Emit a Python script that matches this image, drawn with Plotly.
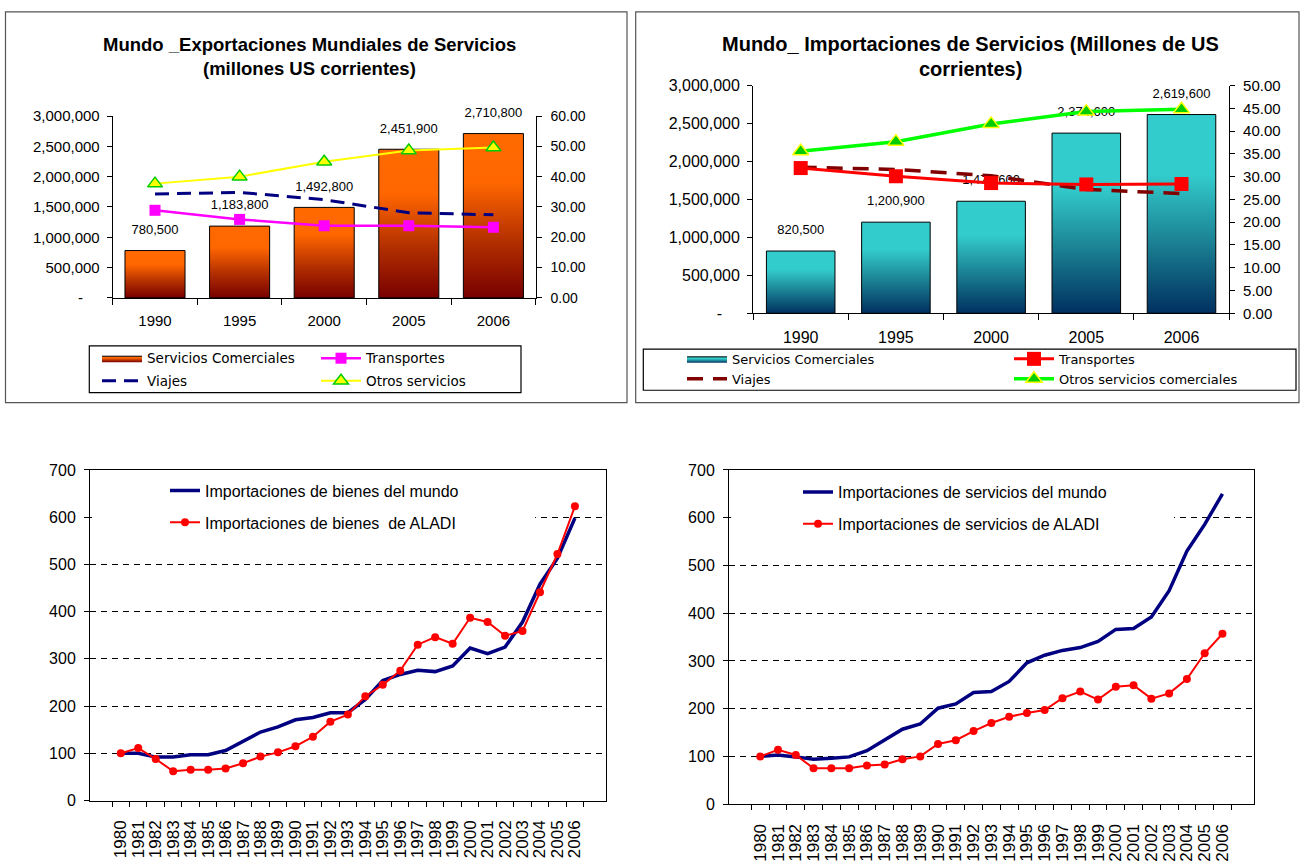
import plotly.graph_objects as go

# ----------------------------
# Dades (llegides del grafic original)
# ----------------------------
anys_serveis = ["1990", "1995", "2000", "2005", "2006"]

# Exportacions mundials de serveis
exp_comerciales = [780500, 1183800, 1492800, 2451900, 2710800]
exp_transportes = [28.9, 25.9, 23.8, 23.8, 23.3]
exp_viajes = [34.3, 34.8, 32.4, 28.1, 27.4]
exp_otros = [37.7, 40.0, 44.9, 48.6, 49.6]

# Importacions mundials de serveis
imp_comerciales = [820500, 1200900, 1476600, 2374600, 2619600]
imp_transportes = [31.9, 30.1, 28.6, 28.3, 28.4]
imp_viajes = [32.1, 31.6, 30.2, 27.2, 26.3]
imp_otros = [35.6, 37.7, 41.6, 44.3, 44.8]

# Index 1980 = 100
anys_index = ["1980", "1981", "1982", "1983", "1984", "1985", "1986", "1987", "1988",
              "1989", "1990", "1991", "1992", "1993", "1994", "1995", "1996", "1997",
              "1998", "1999", "2000", "2001", "2002", "2003", "2004", "2005", "2006"]
mundo_bienes = [100, 100, 92, 92, 97, 97, 106, 126, 145, 156, 171, 176, 186, 186, 214,
                254, 267, 276, 273, 285, 323, 311, 325, 378, 458, 513, 598]
aladi_bienes = [100, 111, 88, 62, 65, 65, 68, 79, 93, 102, 115, 135, 167, 182, 221,
                245, 275, 330, 346, 332, 387, 378, 349, 359, 441, 522, 623]
mundo_servicios = [100, 103, 99, 94, 96, 99, 112, 134, 157, 168, 201, 210, 234, 236, 257,
                   296, 312, 322, 328, 341, 366, 368, 392, 447, 530, 586, 650]
aladi_servicios = [100, 114, 103, 75, 75, 75, 81, 83, 94, 100, 126, 134, 153, 170, 183,
                   191, 197, 222, 236, 219, 246, 249, 221, 232, 262, 316, 357]

ticks_milions = [0, 500000, 1000000, 1500000, 2000000, 2500000, 3000000]
text_milions = ["-\u00a0\u00a0\u00a0\u00a0" if v == 0 else f"{v:,}" for v in ticks_milions]

# ----------------------------
# Utilitats de posicio (pixels de la pagina -> paper)
# ----------------------------
AMPLADA, ALCADA = 1301, 868
ARIAL = "Liberation Sans, Arial, sans-serif"
VERDANA = "DejaVu Sans, Verdana, sans-serif"


def px(x):
    return x / AMPLADA


def py(y):
    return 1 - y / ALCADA


fig = go.Figure()


def barres(valors, xa, ya, escala, mig_ample, nom, llegenda):
    # barres amb degradat: poligons omplerts sobre l'eix numeric
    for i, v in enumerate(valors):
        fig.add_trace(go.Scatter(
            x=[i - mig_ample, i + mig_ample, i + mig_ample, i - mig_ample, i - mig_ample],
            y=[0, 0, v, v, 0],
            mode="lines", fill="toself",
            fillgradient=dict(type="vertical", colorscale=escala),
            line=dict(color="black", width=1),
            xaxis=xa, yaxis=ya, name=nom, legend=llegenda, legendgroup="g1",
            showlegend=(i == 0), hoverinfo="skip",
        ))
    fig.add_trace(go.Scatter(
        x=list(range(len(valors))), y=valors, mode="markers+text",
        text=[f"{v:,}" for v in valors], textposition="top center",
        textfont=dict(family=ARIAL, size=13, color="black"),
        marker=dict(size=20, color="rgba(0,0,0,0)"), cliponaxis=False,
        xaxis=xa, yaxis=ya, showlegend=False, hoverinfo="skip",
    ))


def linia(x, y, xa, ya, nom, llegenda, grup, color, ample, dash="solid", marcador=None):
    fig.add_trace(go.Scatter(
        x=x, y=y, name=nom, xaxis=xa, yaxis=ya, legend=llegenda, legendgroup=grup,
        mode="lines+markers" if marcador else "lines",
        line=dict(color=color, width=ample, dash=dash),
        marker=marcador, cliponaxis=False,
    ))


idx = list(range(len(anys_serveis)))

# ----------------------------
# 1) Exportacions
# ----------------------------
taronja = [[0, "#780000"], [0.35, "#B43000"], [0.7, "#FF6600"], [1, "#FF6A00"]]
barres(exp_comerciales, "x", "y", taronja, 0.355, "Servicios Comerciales", "legend")
linia(idx, exp_viajes, "x", "y2", "Viajes", "legend", "g2", "#000080", 3, dash="14px,8px")
linia(idx, exp_transportes, "x", "y2", "Transportes", "legend2", "g3", "#FF00FF", 2.5,
      marcador=dict(symbol="square", size=11, color="#FF00FF"))
linia(idx, exp_otros, "x", "y2", "Otros servicios", "legend2", "g4", "#FFFF00", 2,
      marcador=dict(symbol="triangle-up", size=13, color="#FFFF00",
                    line=dict(color="#00CC00", width=1.5)))

# ----------------------------
# 2) Importacions
# ----------------------------
blau = [[0, "#003060"], [0.35, "#1A7F92"], [0.7, "#33CCCC"], [1, "#33CCCC"]]
barres(imp_comerciales, "x2", "y3", blau, 0.36, "Servicios Comerciales", "legend3")
linia(idx, imp_viajes, "x2", "y4", "Viajes", "legend3", "g2", "#800000", 3.5, dash="16px,10px")
linia(idx, imp_transportes, "x2", "y4", "Transportes", "legend4", "g3", "#FF0000", 3,
      marcador=dict(symbol="square", size=14, color="#FF0000"))
linia(idx, imp_otros, "x2", "y4", "Otros servicios comerciales", "legend4", "g4", "#00FF00", 3.5,
      marcador=dict(symbol="triangle-up", size=14, color="#00CC00",
                    line=dict(color="#FFFF00", width=1.5)))

# ----------------------------
# 3) Index de bens i serveis
# ----------------------------
linia(anys_index, mundo_bienes, "x3", "y5", "Importaciones de bienes del mundo", "legend5",
      "g5", "#000080", 3.5)
linia(anys_index, aladi_bienes, "x3", "y5", "Importaciones de bienes \u00a0de ALADI", "legend5",
      "g6", "#FF0000", 2, marcador=dict(symbol="circle", size=8, color="#FF0000"))
linia(anys_index, mundo_servicios, "x4", "y6", "Importaciones de servicios del mundo", "legend6",
      "g5", "#000080", 3.5)
linia(anys_index, aladi_servicios, "x4", "y6", "Importaciones de servicios de ALADI", "legend6",
      "g6", "#FF0000", 2, marcador=dict(symbol="circle", size=8, color="#FF0000"))

# ----------------------------
# Eixos
# ----------------------------
eix = dict(showline=True, linecolor="black", linewidth=1, zeroline=False, showgrid=False,
           ticks="outside", ticklen=5, tickcolor="black", tickwidth=1)

eix_barres = dict(eix, range=[-0.5, 4.5], tickvals=idx, ticktext=anys_serveis, ticks="",
                  minor=dict(tick0=-0.5, dtick=1, ticks="outside", ticklen=6,
                             tickcolor="black"))

eix_anys = dict(eix, type="category", tickvals=anys_index, tickson="boundaries", mirror=True,
                tickangle=-90, tickfont=dict(size=17), ticklabelstandoff=12)

eix_index = dict(eix, range=[0, 700], dtick=100, mirror=True, showgrid=True, gridcolor="black",
                 griddash="6px,5px", tickfont=dict(size=16), ticklabelstandoff=5)

fig.update_layout(
    xaxis=dict(eix_barres, domain=[px(112.7), px(535.7)], anchor="y",
               tickfont=dict(size=15), ticklabelstandoff=9),
    yaxis=dict(eix, domain=[py(295), py(109.3)], anchor="x", range=[0, 3000000],
               tickvals=ticks_milions, ticktext=text_milions, tickfont=dict(size=15),
               ticklabelstandoff=4),
    yaxis2=dict(eix, overlaying="y", side="right", anchor="x", range=[0, 60], dtick=10,
                tickformat=".2f", tickfont=dict(size=14), ticklabelstandoff=6),
    xaxis2=dict(eix_barres, domain=[px(753.1), px(1229.1)], anchor="y3",
                tickfont=dict(size=16), ticklabelstandoff=10),
    yaxis3=dict(eix, domain=[py(310.7), py(78.3)], anchor="x2", range=[0, 3000000],
                tickvals=ticks_milions, ticktext=text_milions, tickfont=dict(size=16),
                ticklabelstandoff=4),
    yaxis4=dict(eix, overlaying="y3", side="right", anchor="x2", range=[0, 50], dtick=5,
                tickformat=".2f", tickfont=dict(size=15), ticklabelstandoff=5),
    xaxis3=dict(eix_anys, domain=[px(90), px(605.7)], anchor="y5"),
    yaxis5=dict(eix_index, domain=[py(808.3), py(470.7)], anchor="x3"),
    xaxis4=dict(eix_anys, domain=[px(729), px(1253.7)], anchor="y6"),
    yaxis6=dict(eix_index, domain=[py(812), py(470.7)], anchor="x4"),
)

# ----------------------------
# Llegendes (dues columnes per grafic de dalt)
# ----------------------------
llegenda_dalt = dict(bgcolor="rgba(0,0,0,0)", borderwidth=0, xanchor="left", yanchor="top",
                     font=dict(family=VERDANA, size=13.5, color="black"),
                     tracegroupgap=2, itemwidth=40)
llegenda_baix = dict(bgcolor="rgba(0,0,0,0)", borderwidth=0, xanchor="left", yanchor="top",
                     font=dict(family=ARIAL, size=16, color="black"),
                     tracegroupgap=8, itemwidth=30)

fig.update_layout(
    legend=dict(llegenda_dalt, x=px(97), y=py(341)),
    legend2=dict(llegenda_dalt, x=px(316), y=py(341)),
    legend3=dict(llegenda_dalt, x=px(682), y=py(342), tracegroupgap=0, font_size=13),
    legend4=dict(llegenda_dalt, x=px(1009), y=py(342), tracegroupgap=0, font_size=13),
    legend5=dict(llegenda_baix, x=px(165), y=py(474.5)),
    legend6=dict(llegenda_baix, x=px(798), y=py(476)),
)

# ----------------------------
# Titols, marcs i fons blanc de les llegendes de baix
# ----------------------------
titol = dict(xref="paper", yref="paper", showarrow=False, xanchor="center", yanchor="middle",
             font=dict(family=ARIAL, size=18.5, color="black"))
fig.add_annotation(titol, x=px(309), y=py(36), text="<b>Mundo _Exportaciones Mundiales de Servicios</b>")
fig.add_annotation(titol, x=px(309), y=py(61), text="<b>(millones US corrientes)</b>")
fig.add_annotation(titol, x=px(970), y=py(36), font_size=20,
                   text="<b>Mundo_ Importaciones de Servicios (Millones de US</b>")
fig.add_annotation(titol, x=px(970), y=py(61), font_size=20, text="<b>corrientes)</b>")

marc = dict(type="rect", xref="paper", yref="paper", line=dict(color="#555555", width=1.2))
fig.add_shape(marc, x0=px(5.5), x1=px(627), y0=py(402), y1=py(3))
fig.add_shape(marc, x0=px(635.7), x1=px(1299), y0=py(402), y1=py(3))
fig.add_shape(marc, x0=px(89.3), x1=px(521), y0=py(391.7), y1=py(344), line_color="black")
fig.add_shape(marc, x0=px(643.3), x1=px(1296), y0=py(389.3), y1=py(347.3), line_color="black")

# tapa la reixa sota les llegendes de baix
fig.add_shape(type="rect", xref="x3 domain", yref="y5 domain", x0=0.004, x1=0.863, y0=0.795,
              y1=0.975, fillcolor="white", line_width=0, layer="above")
fig.add_shape(type="rect", xref="x4 domain", yref="y6 domain", x0=0.004, x1=0.848, y0=0.797,
              y1=0.975, fillcolor="white", line_width=0, layer="above")

fig.update_layout(
    width=AMPLADA, height=ALCADA, autosize=False,
    margin=dict(l=0, r=0, t=0, b=0),
    paper_bgcolor="white", plot_bgcolor="white",
    font=dict(family=ARIAL, color="black"),
    showlegend=True, hovermode=False,
)

fig.write_html("out.html", config={"displayModeBar": False},
               post_script="document.body.style.margin='0px';")
